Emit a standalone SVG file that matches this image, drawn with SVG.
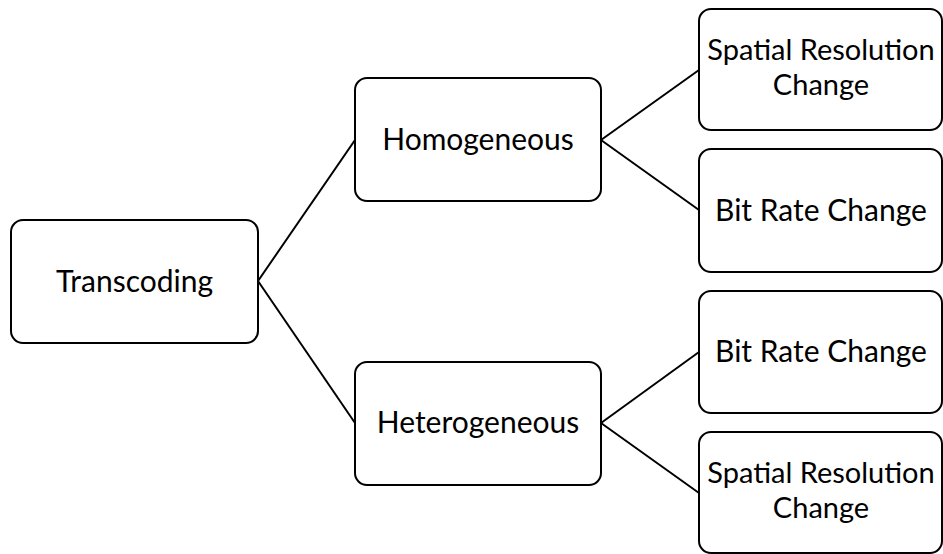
<svg xmlns="http://www.w3.org/2000/svg" width="943" height="554" viewBox="0 0 943 554">
<style>
.box{fill:#fff;stroke:#000;stroke-width:2}
.lbl{font-family:Lato,"Open Sans","Liberation Sans",sans-serif;font-size:30px;fill:#000;text-anchor:middle}
.two{font-size:29px}
.con{stroke:#000;stroke-width:2;fill:none}
</style>
<rect width="943" height="554" fill="#fff"/>
<g id="connectors">
<line class="con" x1="258" y1="281" x2="355" y2="140"/>
<line class="con" x1="258" y1="281" x2="355" y2="423"/>
<line class="con" x1="601" y1="140" x2="699" y2="70"/>
<line class="con" x1="601" y1="140" x2="699" y2="210"/>
<line class="con" x1="601" y1="423" x2="699" y2="352"/>
<line class="con" x1="601" y1="423" x2="699" y2="493"/>
</g>
<g id="transcoding"><rect class="box" x="11" y="220" width="247" height="123" rx="12"/><text class="lbl" x="134.5" y="292">Transcoding</text></g>
<g id="homogeneous"><rect class="box" x="355" y="78" width="246" height="123" rx="12"/><text class="lbl" x="478" y="150">Homogeneous</text></g>
<g id="heterogeneous"><rect class="box" x="355" y="362" width="246" height="123" rx="12"/><text class="lbl" x="478" y="433">Heterogeneous</text></g>
<g id="homo-spatial"><rect class="box" x="699" y="9" width="243" height="121" rx="12"/><text class="lbl two" x="821" y="60">Spatial Resolution</text><text class="lbl two" x="821" y="95">Change</text></g>
<g id="homo-bitrate"><rect class="box" x="699" y="149" width="243" height="123" rx="12"/><text class="lbl" x="821" y="221">Bit Rate Change</text></g>
<g id="hetero-bitrate"><rect class="box" x="699" y="291" width="243" height="122" rx="12"/><text class="lbl" x="821" y="362">Bit Rate Change</text></g>
<g id="hetero-spatial"><rect class="box" x="699" y="432" width="243" height="121" rx="12"/><text class="lbl two" x="821" y="483">Spatial Resolution</text><text class="lbl two" x="821" y="518">Change</text></g>
</svg>
